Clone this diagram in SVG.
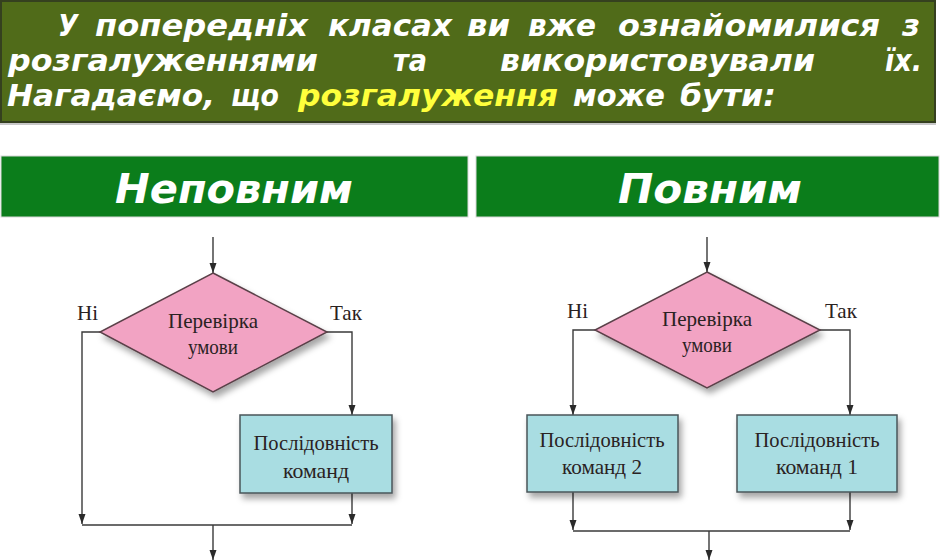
<svg xmlns="http://www.w3.org/2000/svg" width="940" height="560" viewBox="0 0 940 560">
<defs>
<style>
.bt{font-family:"DejaVu Sans","Liberation Sans",sans-serif;font-weight:bold;font-style:oblique;font-size:31px;fill:#ffffff}
.yl{fill:#ffff3c}
.hd{font-family:"DejaVu Sans","Liberation Sans",sans-serif;font-weight:bold;font-style:oblique;font-size:41px;fill:#ffffff;text-anchor:middle}
.ft{font-family:"Liberation Serif","DejaVu Serif",serif;font-size:22px;fill:#2a2222;text-anchor:middle}
.lb{font-family:"Liberation Serif","DejaVu Serif",serif;font-size:21px;fill:#2a2222}
.dia{fill:#f2a3c3;stroke:#5a4048;stroke-width:1.5}
.box{fill:#a9dde2;stroke:#4a5658;stroke-width:1.5}
.ln{fill:none;stroke:#3a3a3a;stroke-width:1.4}
</style>
<marker id="ar" viewBox="0 0 10 10" refX="10" refY="5" markerWidth="10" markerHeight="10" markerUnits="userSpaceOnUse" orient="auto">
<path d="M0,1.5 L10,5 L0,8.5 Z" fill="#2a2a2a"/>
</marker>
<filter id="sh" x="-20%" y="-20%" width="150%" height="160%">
<feDropShadow dx="3" dy="5" stdDeviation="3" flood-color="#000" flood-opacity="0.35"/>
</filter>
</defs>
<rect width="940" height="560" fill="#ffffff"/>

<g id="banner">
<rect x="1" y="1" width="934" height="121" fill="#506b19" stroke="#35401f" stroke-width="2"/>
<line x1="0" y1="124" x2="936" y2="124" stroke="#c8c8c8" stroke-width="2"/>
<text class="bt" x="58" y="36" textLength="20" lengthAdjust="spacingAndGlyphs">У</text>
<text class="bt" x="95" y="36" textLength="213" lengthAdjust="spacingAndGlyphs">попередніх</text>
<text class="bt" x="328" y="36" textLength="124" lengthAdjust="spacingAndGlyphs">класах</text>
<text class="bt" x="467" y="36" textLength="43" lengthAdjust="spacingAndGlyphs">ви</text>
<text class="bt" x="528" y="36" textLength="68" lengthAdjust="spacingAndGlyphs">вже</text>
<text class="bt" x="618" y="36" textLength="262" lengthAdjust="spacingAndGlyphs">ознайомилися</text>
<text class="bt" x="902" y="36" textLength="18" lengthAdjust="spacingAndGlyphs">з</text>
<text class="bt" x="8" y="71" textLength="310" lengthAdjust="spacingAndGlyphs">розгалуженнями</text>
<text class="bt" x="393" y="71" textLength="34" lengthAdjust="spacingAndGlyphs">та</text>
<text class="bt" x="500" y="71" textLength="315" lengthAdjust="spacingAndGlyphs">використовували</text>
<text class="bt" x="885" y="71" textLength="37" lengthAdjust="spacingAndGlyphs">їх.</text>
<text class="bt" x="7" y="106" textLength="208" lengthAdjust="spacingAndGlyphs">Нагадаємо,</text>
<text class="bt" x="231" y="106" textLength="48" lengthAdjust="spacingAndGlyphs">що</text>
<text class="bt yl" x="298" y="106" textLength="260" lengthAdjust="spacingAndGlyphs">розгалуження</text>
<text class="bt" x="573" y="106" textLength="92" lengthAdjust="spacingAndGlyphs">може</text>
<text class="bt" x="680" y="106" textLength="96" lengthAdjust="spacingAndGlyphs">бути:</text>
</g>

<g id="header-left">
<rect x="1" y="156" width="467" height="61" fill="#0b7d1b" stroke="#d8d8d8" stroke-width="1"/>
<text class="hd" x="234" y="203" textLength="238" lengthAdjust="spacingAndGlyphs">Неповним</text>
</g>
<g id="header-right">
<rect x="476" y="156" width="463" height="61" fill="#0b7d1b" stroke="#d8d8d8" stroke-width="1"/>
<text class="hd" x="710" y="203" textLength="184" lengthAdjust="spacingAndGlyphs">Повним</text>
</g>

<g id="connectors">
<line class="ln" x1="213" y1="237" x2="213" y2="273" marker-end="url(#ar)"/>
<polyline class="ln" points="100,332 82,332 82,524" marker-end="url(#ar)"/>
<polyline class="ln" points="327,332 352,332 352,415" marker-end="url(#ar)"/>
<line class="ln" x1="352" y1="493" x2="352" y2="524" marker-end="url(#ar)"/>
<line class="ln" x1="82" y1="525" x2="352" y2="525"/>
<line class="ln" x1="213" y1="525" x2="213" y2="560" marker-end="url(#ar)"/>
<line class="ln" x1="707" y1="237" x2="707" y2="272" marker-end="url(#ar)"/>
<polyline class="ln" points="595,330 573,330 573,415" marker-end="url(#ar)"/>
<polyline class="ln" points="820,330 850,330 850,415" marker-end="url(#ar)"/>
<line class="ln" x1="573" y1="492" x2="573" y2="530" marker-end="url(#ar)"/>
<line class="ln" x1="850" y1="492" x2="850" y2="530" marker-end="url(#ar)"/>
<line class="ln" x1="573" y1="531" x2="850" y2="531"/>
<line class="ln" x1="709" y1="531" x2="709" y2="560" marker-end="url(#ar)"/>
</g>

<g id="left-labels">
<text class="lb" x="77" y="320" textLength="21" lengthAdjust="spacingAndGlyphs">Ні</text>
<text class="lb" x="330" y="320" textLength="32" lengthAdjust="spacingAndGlyphs">Так</text>
</g>
<g id="left-condition">
<polygon class="dia" filter="url(#sh)" points="213,273 327,332 213,392 100,332"/>
<text class="ft" x="213" y="328" textLength="90" lengthAdjust="spacingAndGlyphs">Перевірка</text>
<text class="ft" x="213" y="354" textLength="50" lengthAdjust="spacingAndGlyphs">умови</text>
</g>
<g id="left-commands">
<rect class="box" filter="url(#sh)" x="240" y="415" width="152" height="78"/>
<text class="ft" x="316" y="450" textLength="125" lengthAdjust="spacingAndGlyphs">Послідовність</text>
<text class="ft" x="316" y="478" textLength="66" lengthAdjust="spacingAndGlyphs">команд</text>
</g>

<g id="right-labels">
<text class="lb" x="567" y="318" textLength="21" lengthAdjust="spacingAndGlyphs">Ні</text>
<text class="lb" x="825" y="318" textLength="32" lengthAdjust="spacingAndGlyphs">Так</text>
</g>
<g id="right-condition">
<polygon class="dia" filter="url(#sh)" points="707,272 820,330 707,388 595,330"/>
<text class="ft" x="707" y="326" textLength="90" lengthAdjust="spacingAndGlyphs">Перевірка</text>
<text class="ft" x="707" y="352" textLength="50" lengthAdjust="spacingAndGlyphs">умови</text>
</g>
<g id="right-commands-2">
<rect class="box" filter="url(#sh)" x="527" y="415" width="151" height="77"/>
<text class="ft" x="602" y="447" textLength="125" lengthAdjust="spacingAndGlyphs">Послідовність</text>
<text class="ft" x="602" y="474" textLength="80" lengthAdjust="spacingAndGlyphs">команд 2</text>
</g>
<g id="right-commands-1">
<rect class="box" filter="url(#sh)" x="737" y="415" width="160" height="77"/>
<text class="ft" x="817" y="447" textLength="125" lengthAdjust="spacingAndGlyphs">Послідовність</text>
<text class="ft" x="817" y="474" textLength="82" lengthAdjust="spacingAndGlyphs">команд 1</text>
</g>
</svg>
